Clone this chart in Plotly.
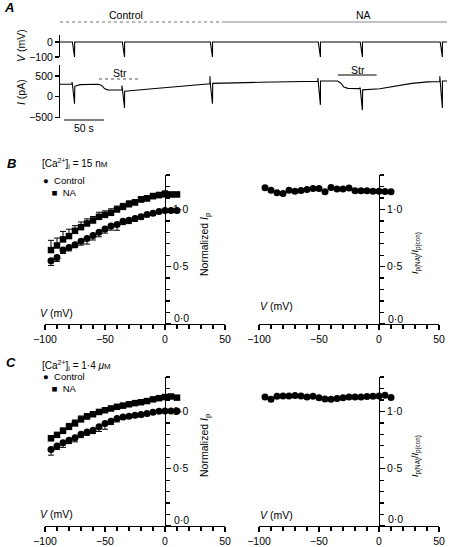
import numpy as np
import plotly.graph_objects as go

W, H = 452, 547
FONT = "Liberation Sans, Arial, Helvetica, sans-serif"

# ---------------- Panel A data (time in s, V in mV, I in pA) ----------------
spike_t = [15, 77.5, 187.5, 322.5, 375, 475]
spike_V_min = [-100, -100, -100, -100, -100, -100]
spike_I_peak = [350, 270, 490, 450, 220, 490]
spike_I_min = [-170, -270, -170, -195, -320, -270]
I_base_t = [0, 15, 18.5, 25, 48, 52, 56, 60, 77.5, 81, 112, 150, 187.5, 191,
            250, 322.5, 326, 347, 351, 355, 360, 375, 378.5, 400, 420, 440,
            460, 475, 478.5, 484]
I_base_v = [300, 300, 250, 290, 300, 270, 190, 165, 160, 130, 185, 250, 310, 320,
            345, 370, 375, 375, 330, 230, 200, 195, 165, 190, 260, 320,
            355, 365, 375, 375]
V_base_t = [0, 484]
V_base_v = [0, 0]
control_t = [0, 202.5]
na_t = [202.5, 484]
str_control_t = [48.75, 100]
str_na_t = [347.5, 396]
scale_t = [5, 55]

# ---------------- Panels B and C data ----------------
V_mV = [-95, -90, -85, -80, -75, -70, -65, -60, -55, -50, -45, -40, -35, -30,
        -25, -20, -15, -10, -5, 0, 5, 10]

B_ctrl = [0.551, 0.581, 0.645, 0.668, 0.691, 0.723, 0.747, 0.773, 0.801, 0.828,
          0.854, 0.868, 0.897, 0.906, 0.921, 0.935, 0.956, 0.967, 0.982, 0.99,
          0.99, 0.99]
B_ctrl_err = [0.04, 0.035, 0.03, 0.03, 0.025, 0.035, 0.05, 0.04, 0.04, 0.035,
              0.035, 0.05, 0.03, 0.03, 0.025, 0.02, 0.02, 0.02, 0.015, 0.01,
              0.01, 0.01]
B_na = [0.645, 0.685, 0.738, 0.767, 0.813, 0.845, 0.877, 0.903, 0.935, 0.952,
        0.97, 0.999, 1.022, 1.045, 1.06, 1.086, 1.095, 1.115, 1.124, 1.132,
        1.13, 1.13]
B_na_err = [0.085, 0.065, 0.07, 0.06, 0.045, 0.045, 0.04, 0.035, 0.04, 0.035,
            0.035, 0.03, 0.03, 0.03, 0.025, 0.025, 0.025, 0.025, 0.025, 0.03,
            0.02, 0.02]
B_ratio = [1.189, 1.168, 1.145, 1.139, 1.168, 1.159, 1.165, 1.174, 1.183, 1.183,
           1.154, 1.192, 1.177, 1.177, 1.186, 1.162, 1.162, 1.162, 1.159, 1.159,
           1.156, 1.154]

C_ctrl = [0.668, 0.697, 0.726, 0.749, 0.769, 0.801, 0.821, 0.836, 0.865, 0.894,
          0.915, 0.938, 0.952, 0.958, 0.967, 0.973, 0.982, 0.993, 1.002, 1.004,
          1.004, 1.004]
C_ctrl_err = [0.05, 0.03, 0.04, 0.03, 0.035, 0.03, 0.03, 0.03, 0.04, 0.05,
              0.03, 0.03, 0.02, 0.02, 0.02, 0.02, 0.02, 0.015, 0.01, 0.01,
              0.01, 0.01]
C_na = [0.765, 0.795, 0.83, 0.865, 0.895, 0.93, 0.955, 0.975, 0.995, 1.01,
        1.025, 1.04, 1.05, 1.062, 1.072, 1.08, 1.09, 1.105, 1.115, 1.125,
        1.13, 1.12]
C_na_err = [0.02, 0.02, 0.025, 0.03, 0.03, 0.03, 0.025, 0.02, 0.02, 0.02,
            0.02, 0.02, 0.02, 0.015, 0.015, 0.015, 0.01, 0.01, 0.01, 0.01,
            0.01, 0.01]
C_ratio = [1.126, 1.106, 1.132, 1.135, 1.135, 1.138, 1.135, 1.126, 1.132, 1.118,
           1.109, 1.106, 1.112, 1.118, 1.126, 1.126, 1.126, 1.129, 1.132, 1.135,
           1.141, 1.121]


def with_spikes(bt, bv, peaks, mins):
    pts = list(zip(bt, bv))
    for ts, pk, mn in zip(spike_t, peaks, mins):
        b0 = float(np.interp(ts, bt, bv))
        b1 = float(np.interp(ts + 3.5, bt, bv))
        pts += [(ts + 0.01, pk), (ts + 0.5, b0), (ts + 3.2, mn), (ts + 3.3, b1)]
    pts.sort(key=lambda p: p[0])
    return [p[0] for p in pts], [p[1] for p in pts]


tV, vV = with_spikes(V_base_t, V_base_v, [0] * len(spike_t), spike_V_min)
tI, vI = with_spikes(I_base_t, I_base_v, spike_I_peak, spike_I_min)

fig = go.Figure()
line_k = dict(color="black", width=1.1)
fig.add_trace(go.Scatter(x=tV, y=vV, mode="lines", line=line_k, xaxis="x", yaxis="y",
                         showlegend=False, hoverinfo="skip"))
fig.add_trace(go.Scatter(x=tI, y=vI, mode="lines", line=line_k, xaxis="x2", yaxis="y2",
                         showlegend=False, hoverinfo="skip"))

zeros = [0] * len(V_mV)


def add_iv(ctrl, cerr, na, nerr, xa, ya):
    fig.add_trace(go.Scatter(
        x=V_mV, y=na, mode="markers", xaxis=xa, yaxis=ya, showlegend=False,
        marker=dict(symbol="square", size=6.5, color="black"),
        error_y=dict(type="data", symmetric=False, array=nerr, arrayminus=zeros,
                     color="black", thickness=1, width=3)))
    fig.add_trace(go.Scatter(
        x=V_mV, y=ctrl, mode="markers", xaxis=xa, yaxis=ya, showlegend=False,
        marker=dict(symbol="circle", size=7, color="black"),
        error_y=dict(type="data", symmetric=False, array=zeros, arrayminus=cerr,
                     color="black", thickness=1, width=3)))


def add_ratio(r, xa, ya):
    fig.add_trace(go.Scatter(
        x=V_mV, y=r, mode="markers", xaxis=xa, yaxis=ya, showlegend=False,
        marker=dict(symbol="circle", size=7, color="black")))


add_iv(B_ctrl, B_ctrl_err, B_na, B_na_err, "x3", "y3")
add_ratio(B_ratio, "x4", "y4")
add_iv(C_ctrl, C_ctrl_err, C_na, C_na_err, "x5", "y5")
add_ratio(C_ratio, "x6", "y6")

tickfont = dict(family=FONT, size=10.5, color="black")
TW = 1.3


def dom_y(top, bot):
    return [1 - bot / H, 1 - top / H]


def xa_iv(left, right, anchor):
    return dict(domain=[left / W, right / W], range=[-100, 50], anchor=anchor,
                showline=True, linecolor="black", linewidth=1, ticks="outside",
                ticklen=5, tickcolor="black", tickwidth=TW,
                tickmode="linear", tick0=-100, dtick=50,
                minor=dict(tickmode="linear", tick0=-100, dtick=10, ticks="outside",
                           ticklen=4, tickcolor="black", tickwidth=TW),
                showgrid=False, zeroline=False, tickfont=tickfont, fixedrange=True,
                automargin=False)


def ya_iv(top, bot, pos):
    return dict(domain=dom_y(top, bot), range=[0, 1.3], anchor="free", position=pos / W,
                side="right", showline=True, linecolor="black", linewidth=1,
                ticks="outside", ticklen=5, tickcolor="black", tickwidth=TW,
                tickmode="linear", tick0=0, dtick=0.5, tickformat=".1f",
                labelalias={"0\u00b70": " ", "0.0": " "},
                minor=dict(tickmode="linear", tick0=0, dtick=0.1, ticks="outside",
                           ticklen=3.5, tickcolor="black", tickwidth=TW),
                showgrid=False, zeroline=False, tickfont=tickfont, fixedrange=True,
                automargin=False)


fig.update_layout(
    template="none", separators="\u00b7,",
    width=W, height=H, margin=dict(l=0, r=0, t=0, b=0, pad=0), autosize=False,
    paper_bgcolor="white", plot_bgcolor="white",
    font=dict(family=FONT, size=10.5, color="black"),
    xaxis=dict(domain=[60 / W, 447 / W], range=[0, 484], visible=False, anchor="y",
               automargin=False),
    yaxis=dict(domain=dom_y(35, 57), range=[-100, 47], anchor="x", showline=True,
               linecolor="black", ticks="outside", ticklen=4, tickcolor="black",
               tickwidth=TW, tickvals=[-100, 0], ticktext=["\u2212100", "0"],
               showgrid=False, zeroline=False, tickfont=tickfont, automargin=False),
    xaxis2=dict(domain=[60 / W, 447 / W], range=[0, 484], visible=False, anchor="y2",
                automargin=False),
    yaxis2=dict(domain=dom_y(65, 118), range=[-510, 760], anchor="x2", showline=True,
                linecolor="black", ticks="outside", ticklen=4, tickcolor="black",
                tickwidth=TW, tickvals=[-500, 0, 500], ticktext=["\u2212500", "0", "500"],
                showgrid=False, zeroline=False, tickfont=tickfont, automargin=False),
    xaxis3=xa_iv(45, 225, "y3"), yaxis3=ya_iv(175, 324, 165),
    xaxis4=xa_iv(259, 439, "y4"), yaxis4=ya_iv(175, 324, 379),
    xaxis5=xa_iv(45, 225, "y5"), yaxis5=ya_iv(377, 526, 165),
    xaxis6=xa_iv(259, 439, "y6"), yaxis6=ya_iv(377, 526, 379),
)

anns = []


def ann(text, px, py, size=10.5, xanchor="center", angle=0, bold=False, italic=False):
    if italic:
        text = "<i>" + text + "</i>"
    if bold:
        text = "<b>" + text + "</b>"
    anns.append(dict(text=text, x=px / W, y=1 - py / H, xref="paper", yref="paper",
                     xanchor=xanchor, yanchor="middle", showarrow=False, textangle=angle,
                     font=dict(family=FONT, size=size, color="black")))


# Panel A texts
ann("A", 9, 8, size=13, bold=True, italic=True)
ann("Control", 126, 15)
ann("NA", 363, 15)
ann("Str", 120, 73)
ann("Str", 358, 70)
ann("50 s", 84, 128)
ann("<i>V</i> (mV)", 21, 46, angle=-90)
ann("<i>I</i> (pA)", 21, 92, angle=-90)

# Panel B texts
ann("B", 11, 163, size=13, bold=True, italic=True)
ann("[Ca<sup>2+</sup>]<sub>i</sub> = 15 n<span style='font-size:8px'>M</span>", 40, 163,
    size=10, xanchor="left")
ann("\u25cf  Control<br>\u25a0  NA", 41, 186.5, size=9.5, xanchor="left")
ann("<i>V</i> (mV)", 38, 313, xanchor="left")
ann("<i>V</i> (mV)", 258, 306, xanchor="left")
ann("0\u00b70", 172, 318, xanchor="left")
ann("0\u00b70", 386, 319, xanchor="left")
ann("Normalized <i>I</i><sub>p</sub>", 205, 245, angle=-90)
ann("<i>I</i><sub>p(NA)</sub>/<i>I</i><sub>p(con)</sub>", 416, 253, size=9, angle=-90)

# Panel C texts
ann("C", 11, 362, size=13, bold=True, italic=True)
ann("[Ca<sup>2+</sup>]<sub>i</sub> = 1\u00b74 <i>\u03bc</i><span style='font-size:8px'>M</span>",
    40, 365, size=10, xanchor="left")
ann("\u25cf  Control<br>\u25a0  NA", 41, 382, size=9.5, xanchor="left")
ann("<i>V</i> (mV)", 38, 514, xanchor="left")
ann("<i>V</i> (mV)", 258, 515, xanchor="left")
ann("0\u00b70", 172, 520, xanchor="left")
ann("0\u00b70", 386, 519, xanchor="left")
ann("Normalized <i>I</i><sub>p</sub>", 205, 446, angle=-90)
ann("<i>I</i><sub>p(NA)</sub>/<i>I</i><sub>p(con)</sub>", 416, 456, size=9, angle=-90)

fig.update_layout(annotations=anns)

shapes = []


def hbar(t0, t1, py, xref, dash="solid", color="black", width=1):
    shapes.append(dict(type="line", xref=xref, yref="paper", x0=t0, x1=t1,
                       y0=1 - py / H, y1=1 - py / H,
                       line=dict(color=color, width=width, dash=dash)))


hbar(control_t[0], control_t[1], 22, "x", dash="dot", color="#777777", width=1.2)
hbar(na_t[0], na_t[1], 22, "x", color="#888888", width=1.2)
hbar(str_control_t[0], str_control_t[1], 79, "x2", dash="dot", color="#555555", width=1.2)
hbar(str_na_t[0], str_na_t[1], 75, "x2", color="black", width=1)
hbar(scale_t[0], scale_t[1], 120, "x2", color="black", width=1)
fig.update_layout(shapes=shapes)

fig.write_html("out.html", config={"displayModeBar": False, "staticPlot": True},
               post_script="document.body.style.margin='0px';")
